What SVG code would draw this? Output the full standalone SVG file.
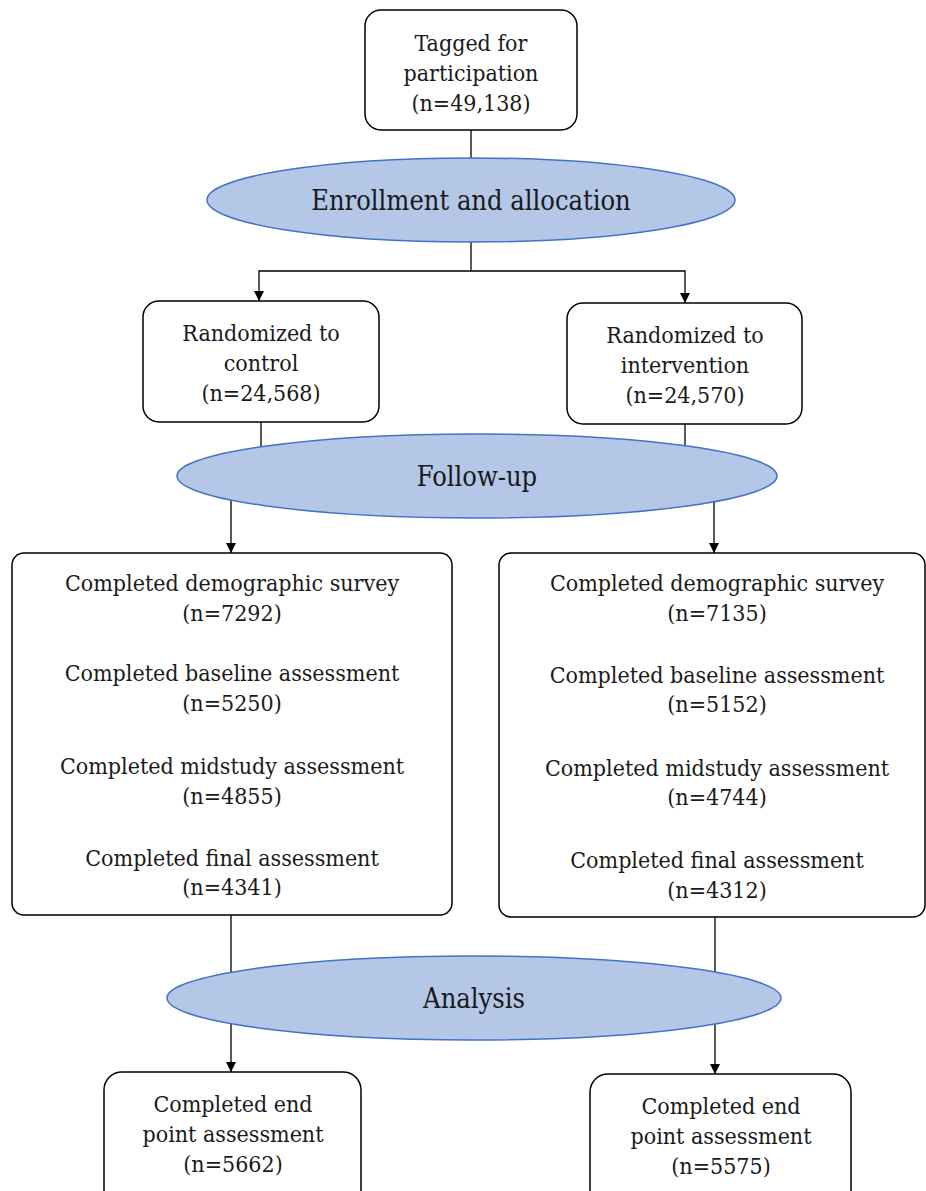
<svg xmlns="http://www.w3.org/2000/svg" width="926" height="1191" viewBox="0 0 926 1191">
<defs>
<marker id="arr" viewBox="0 0 10 10" refX="10" refY="5" markerWidth="10" markerHeight="10" markerUnits="userSpaceOnUse" orient="auto">
<path d="M0,0 L10,5 L0,10 z" fill="#000"/>
</marker>
<style>
.box{fill:#fff;stroke:#000;stroke-width:1.5}
.ell{fill:#b4c7e7;stroke:#4472c4;stroke-width:1.5}
.t{font-family:"DejaVu Serif Condensed","DejaVu Serif","Liberation Serif",serif;font-stretch:condensed;font-size:23px;fill:#1a1a1a;text-anchor:middle}
.te{font-family:"DejaVu Serif Condensed","DejaVu Serif","Liberation Serif",serif;font-stretch:condensed;font-size:27px;fill:#1a1a1a;text-anchor:middle}
.c{fill:none;stroke:#000;stroke-width:1.3}
</style>
</defs>
<rect width="926" height="1191" fill="#fff"/>
<g id="connectors">
<path class="c" d="M471,130 V271"/>
<path class="c" d="M471,271 H259 V301" marker-end="url(#arr)"/>
<path class="c" d="M471,271 H685 V303" marker-end="url(#arr)"/>
<path class="c" d="M261,422 V460"/>
<path class="c" d="M685,424 V460"/>
<path class="c" d="M231,500 V553" marker-end="url(#arr)"/>
<path class="c" d="M714,500 V553" marker-end="url(#arr)"/>
<path class="c" d="M231,915 V1072" marker-end="url(#arr)"/>
<path class="c" d="M715,917 V1074" marker-end="url(#arr)"/>
</g>
<g id="tagged">
<rect class="box" x="365" y="10" width="212" height="120" rx="16"/>
<text class="t" x="471" y="51">Tagged for</text>
<text class="t" x="471" y="81">participation</text>
<text class="t" x="471" y="111">(n=49,138)</text>
</g>
<g id="enrollment">
<ellipse class="ell" cx="471" cy="200" rx="264" ry="42"/>
<text class="te" x="471" y="210">Enrollment and allocation</text>
</g>
<g id="control">
<rect class="box" x="143" y="301" width="236" height="121" rx="16"/>
<text class="t" x="261" y="341">Randomized to</text>
<text class="t" x="261" y="371">control</text>
<text class="t" x="261" y="401">(n=24,568)</text>
</g>
<g id="intervention">
<rect class="box" x="567" y="303" width="235" height="121" rx="16"/>
<text class="t" x="685" y="343">Randomized to</text>
<text class="t" x="685" y="373">intervention</text>
<text class="t" x="685" y="403">(n=24,570)</text>
</g>
<g id="followup">
<ellipse class="ell" cx="477" cy="476" rx="300" ry="42"/>
<text class="te" x="477" y="486">Follow-up</text>
</g>
<g id="control-completed">
<rect class="box" x="12" y="553" width="440" height="362" rx="12"/>
<text class="t" x="232" y="591">Completed demographic survey</text>
<text class="t" x="232" y="621">(n=7292)</text>
<text class="t" x="232" y="681">Completed baseline assessment</text>
<text class="t" x="232" y="711">(n=5250)</text>
<text class="t" x="232" y="774">Completed midstudy assessment</text>
<text class="t" x="232" y="804">(n=4855)</text>
<text class="t" x="232" y="866">Completed final assessment</text>
<text class="t" x="232" y="895">(n=4341)</text>
</g>
<g id="intervention-completed">
<rect class="box" x="499" y="553" width="426" height="364" rx="12"/>
<text class="t" x="717" y="591">Completed demographic survey</text>
<text class="t" x="717" y="621">(n=7135)</text>
<text class="t" x="717" y="683">Completed baseline assessment</text>
<text class="t" x="717" y="712">(n=5152)</text>
<text class="t" x="717" y="776">Completed midstudy assessment</text>
<text class="t" x="717" y="805">(n=4744)</text>
<text class="t" x="717" y="868">Completed final assessment</text>
<text class="t" x="717" y="898">(n=4312)</text>
</g>
<g id="analysis">
<ellipse class="ell" cx="474" cy="998" rx="307" ry="42"/>
<text class="te" x="474" y="1008">Analysis</text>
</g>
<g id="control-endpoint">
<rect class="box" x="104" y="1072" width="257" height="140" rx="18"/>
<text class="t" x="233" y="1112">Completed end</text>
<text class="t" x="233" y="1142">point assessment</text>
<text class="t" x="233" y="1172">(n=5662)</text>
</g>
<g id="intervention-endpoint">
<rect class="box" x="590" y="1074" width="261" height="140" rx="18"/>
<text class="t" x="721" y="1114">Completed end</text>
<text class="t" x="721" y="1144">point assessment</text>
<text class="t" x="721" y="1174">(n=5575)</text>
</g>
</svg>
